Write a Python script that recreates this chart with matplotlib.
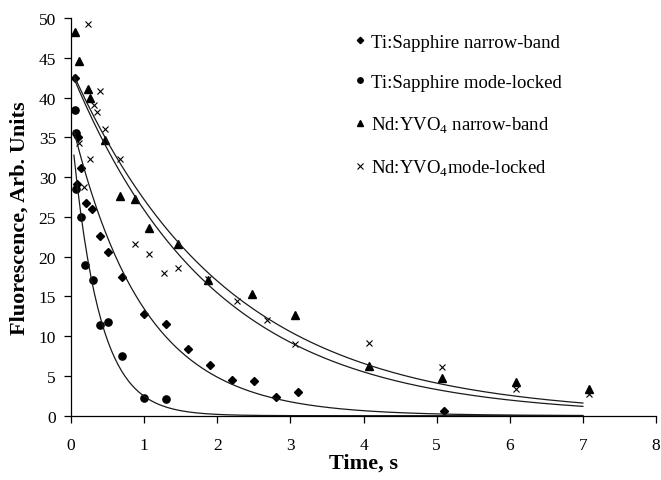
import numpy as np
import matplotlib
matplotlib.use("Agg")
from matplotlib import pyplot as plt

plt.rcParams["font.family"] = ["Liberation Serif", "DejaVu Serif"]
plt.rcParams["mathtext.fontset"] = "custom"
plt.rcParams["mathtext.rm"] = "Liberation Serif"

# Ti:Sapphire narrow-band (diamonds)
ti_nb_t = [0.05, 0.09, 0.14, 0.08, 0.20, 0.29, 0.40, 0.51, 0.70, 1.00, 1.30, 1.60, 1.90, 2.20, 2.50, 2.80, 3.10, 5.10]
ti_nb_y = [42.5, 35.0, 31.2, 29.1, 26.8, 26.0, 22.6, 20.6, 17.5, 12.8, 11.5, 8.4, 6.4, 4.5, 4.4, 2.4, 3.0, 0.6]

# Ti:Sapphire mode-locked (circles)
ti_ml_t = [0.05, 0.07, 0.07, 0.13, 0.19, 0.30, 0.40, 0.50, 0.70, 1.00, 1.30]
ti_ml_y = [38.4, 35.5, 28.5, 25.0, 19.0, 17.0, 11.4, 11.8, 7.5, 2.2, 2.1]

# Nd:YVO4 narrow-band (triangles)
nd_nb_t = [0.06, 0.11, 0.23, 0.26, 0.47, 0.67, 0.87, 1.07, 1.47, 1.87, 2.47, 3.07, 4.08, 5.08, 6.09, 7.09]
nd_nb_y = [48.3, 44.6, 41.1, 40.0, 34.6, 27.6, 27.3, 23.6, 21.6, 17.0, 15.3, 12.6, 6.3, 4.8, 4.2, 3.3]

# Nd:YVO4 mode-locked (crosses)
nd_ml_t = [0.23, 0.39, 0.31, 0.35, 0.47, 0.11, 0.26, 0.67, 0.18, 0.88, 1.07, 1.27, 1.47, 1.87, 2.27, 2.68, 3.07, 4.07, 5.08, 6.08, 7.08]
nd_ml_y = [49.2, 40.8, 39.1, 38.2, 36.0, 34.3, 32.3, 32.3, 28.7, 21.6, 20.3, 18.0, 18.6, 17.2, 14.4, 12.0, 9.0, 9.1, 6.1, 3.3, 2.7]

# exponential trend lines: y = amp * exp(-t / tau)
fit_amp = [37.3, 36.5, 43.6, 43.3]
fit_tau = [0.98, 0.37, 2.115, 1.94]
fit_range = (0.04, 7.0)

labels = ["Ti:Sapphire narrow-band",
          "Ti:Sapphire mode-locked",
          "Nd:YVO$_\\mathregular{4}$ narrow-band",
          "Nd:YVO$_\\mathregular{4}$mode-locked"]

W, H = 661, 481
fig = plt.figure(figsize=(W / 100, H / 100), dpi=100)
ax = fig.add_axes([71 / W, 64.3 / H, 585 / W, 397.7 / H])

ax.plot(ti_nb_t, ti_nb_y, ls="none", marker="D", ms=4.3, color="black", label=labels[0])
ax.plot(ti_ml_t, ti_ml_y, ls="none", marker="o", ms=5.2, color="black", label=labels[1])
ax.plot(nd_nb_t, nd_nb_y, ls="none", marker="^", ms=6.0, color="black", label=labels[2])
ax.plot(nd_ml_t, nd_ml_y, ls="none", marker="x", ms=5.0, mew=0.8, color="black", label=labels[3])

t = np.linspace(fit_range[0], fit_range[1], 300)
for amp, tau in zip(fit_amp, fit_tau):
    ax.plot(t, amp * np.exp(-t / tau), color="#1a1a1a", lw=0.9)

ax.set_xlim(0, 8)
ax.set_ylim(0, 50)
ax.set_xticks(range(0, 9))
ax.set_yticks(range(0, 51, 5))
for s in ("top", "right"):
    ax.spines[s].set_visible(False)
for s in ("left", "bottom"):
    ax.spines[s].set_linewidth(0.9)
ax.tick_params(direction="out", length=4.8, width=0.9, labelsize=12.5)
ax.tick_params(axis="x", pad=10.5)
ax.tick_params(axis="y", pad=6)

ax.set_xlabel("Time, s", fontsize=16, fontweight="bold")
ax.set_ylabel("Fluorescence, Arb. Units", fontsize=16, fontweight="bold")
ax.xaxis.set_label_coords(0.5, -0.094)
ax.yaxis.set_label_coords(-0.070, 0.5)

ax.legend(loc="upper left", bbox_to_anchor=(0.4844, 0.961), frameon=False,
          fontsize=13.5, markerscale=0.75, handlelength=0.6, handletextpad=0.3,
          labelspacing=1.24, borderpad=0, borderaxespad=0)

fig.savefig("out.png", dpi=100)
